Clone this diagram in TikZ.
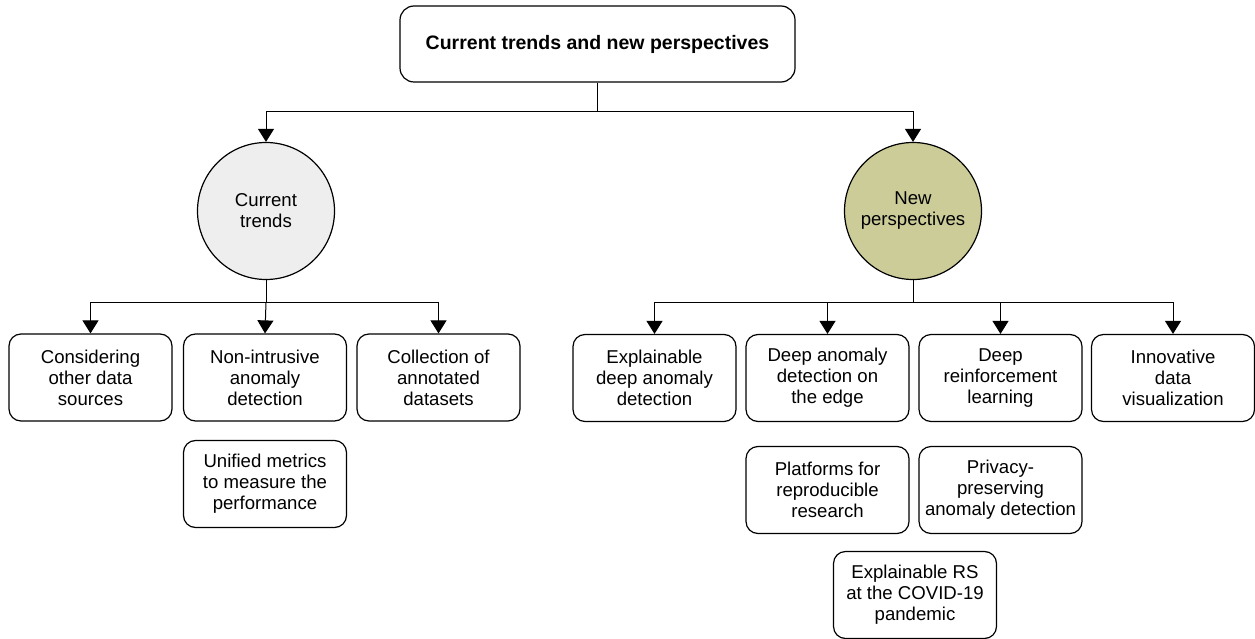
\documentclass[tikz,border=0pt]{standalone}
\usepackage{fontspec}
\setmainfont{Liberation Sans}
\usetikzlibrary{arrows.meta}
\definecolor{khaki}{RGB}{204,204,153}
\definecolor{lightgray}{RGB}{238,238,238}
\begin{document}
\begin{tikzpicture}[x=1pt,y=-1pt,
  every node/.style={font=\fontsize{18.6}{21}\selectfont, align=center, inner sep=0pt},
  box/.style={draw, line width=1.2pt, rounded corners=12pt, minimum width=163pt, minimum height=87pt, fill=white},
  topbox/.style={draw, line width=1.2pt, rounded corners=14pt, minimum width=395pt, minimum height=76pt, font=\fontsize{19.5}{22}\selectfont\bfseries},
  circ/.style={draw, circle, line width=1.2pt, minimum size=137pt},
  conn/.style={line width=1pt},
  arr/.style={conn, -{Triangle[width=16pt,length=13pt]}}
]
\useasboundingbox (0,0) rectangle (1255,639);

\node[topbox] (top) at (597.5,44) {Current trends and new perspectives};

\node[circ, fill=lightgray] (cl) at (266,211) {Current\\trends};
\node[circ, fill=khaki] (cr) at (913,211) {New\\perspectives};

% left boxes
\node[box] (c1) at (90.5,377.5) {Considering\\other data\\sources};
\node[box] (c2) at (265,377.5) {Non-intrusive\\anomaly\\detection};
\node[box] (c3) at (438.5,377.5) {Collection of\\annotated\\datasets};
\node[box] (c4) at (265,484) {Unified metrics\\to measure the\\performance};

% right boxes
\node[box] (n1) at (654.5,378) {Explainable\\deep anomaly\\detection};
\node[box] (n2) at (827.5,378) {Deep anomaly\\detection on\\the edge};
\node[box] (n3) at (1000.5,378) {Deep\\reinforcement\\learning};
\node[box] (n4) at (1173,378) {Innovative\\data\\visualization};
\node[box] (n5) at (827.5,490) {Platforms for\\reproducible\\research};
\node[box] (n6) at (1000.5,490) {Privacy-\\preserving\\anomaly detection};
\node[box] (n7) at (915,595) {Explainable RS\\at the COVID-19\\pandemic};

% connectors
\coordinate (j0) at (597.5,112);
\draw[conn] (top.south) -- (j0);
\draw[arr] (j0) -| (cl.north);
\draw[arr] (j0) -| (cr.north);

\coordinate (jl) at (266,302);
\draw[conn] (cl.south) -- (jl);
\draw[arr] (jl) -| (c1.north);
\draw[arr] (jl) -- (c2.north);
\draw[arr] (jl) -| (c3.north);

\coordinate (jr) at (913,302);
\draw[conn] (cr.south) -- (jr);
\draw[arr] (jr) -| (n1.north);
\draw[arr] (jr) -| (n2.north);
\draw[arr] (jr) -| (n3.north);
\draw[arr] (jr) -| (n4.north);
\end{tikzpicture}
\end{document}
